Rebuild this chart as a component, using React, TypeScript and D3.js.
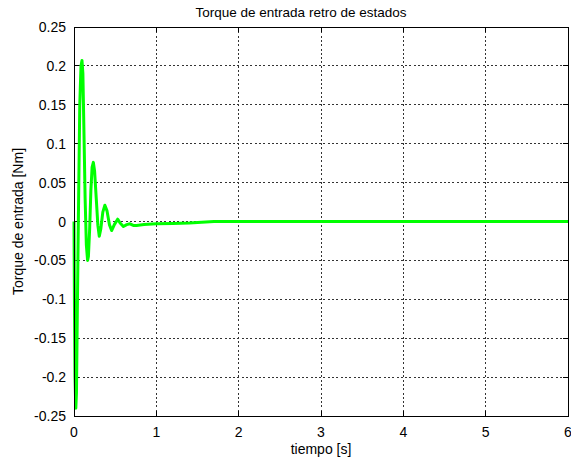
import React from 'react';
import * as d3 from 'd3';

// signal: time [s] and torque [Nm]
const tiempo = [0, 0.005, 0.012, 0.022, 0.03, 0.04, 0.055, 0.07, 0.085, 0.097, 0.108, 0.12, 0.135, 0.15, 0.165, 0.175, 0.19, 0.205, 0.22, 0.235, 0.25, 0.27, 0.29, 0.307, 0.325, 0.35, 0.375, 0.4, 0.43, 0.457, 0.49, 0.53, 0.56, 0.6, 0.64, 0.68, 0.72, 0.76, 0.85, 1.0, 1.2, 1.4, 1.55, 1.7, 6];
const torque = [0, -0.1, -0.2, -0.24, -0.22, -0.12, 0.02, 0.15, 0.2, 0.207, 0.19, 0.12, 0.03, -0.03, -0.05, -0.045, -0.01, 0.04, 0.07, 0.076, 0.065, 0.03, -0.005, -0.019, -0.01, 0.012, 0.021, 0.014, -0.004, -0.0116, -0.004, 0.003, -0.002, -0.0064, -0.004, -0.003, -0.005, -0.005, -0.004, -0.003, -0.0025, -0.002, -0.001, 0, 0];

const xTicks = [0, 1, 2, 3, 4, 5, 6];
const yTicks = [-0.25, -0.2, -0.15, -0.1, -0.05, 0, 0.05, 0.1, 0.15, 0.2, 0.25];
const yTickLabels = ['-0.25', '-0.2', '-0.15', '-0.1', '-0.05', '0', '0.05', '0.1', '0.15', '0.2', '0.25'];

const W = 571;
const H = 460;
const left = 74, right = 568, top = 27, bottom = 416;
const font = 'Liberation Sans, Arial, sans-serif';

export default function App() {
  const x = d3.scaleLinear().domain([0, 6]).range([left, right]);
  const y = d3.scaleLinear().domain([-0.25, 0.25]).range([bottom, top]);

  const pts = tiempo.map((t, i) => [t, torque[i]] as [number, number]);
  const line = d3.line<[number, number]>()
    .x(d => x(d[0]))
    .y(d => y(d[1]));

  return (
    <svg width={W} height={H} style={{ position: 'absolute', left: 0, top: 0, background: '#fff' }}>
      <rect x={0} y={0} width={W} height={H} fill="#fff" />
      <rect x={left} y={top} width={right - left} height={bottom - top} fill="#fff" />

      {/* grid */}
      {xTicks.slice(1, -1).map(t => (
        <line key={'gx' + t} x1={x(t)} x2={x(t)} y1={top} y2={bottom}
          stroke="#333" strokeWidth={1} strokeDasharray="2,2.3" shapeRendering="crispEdges" />
      ))}
      {yTicks.slice(1, -1).map(t => (
        <line key={'gy' + t} x1={left} x2={right} y1={y(t)} y2={y(t)}
          stroke="#333" strokeWidth={1} strokeDasharray="2,2.3" shapeRendering="crispEdges" />
      ))}

      {/* tick marks */}
      {xTicks.map(t => (
        <g key={'tx' + t}>
          <line x1={x(t)} x2={x(t)} y1={bottom} y2={bottom - 5} stroke="#000" shapeRendering="crispEdges" />
          <line x1={x(t)} x2={x(t)} y1={top} y2={top + 5} stroke="#000" shapeRendering="crispEdges" />
        </g>
      ))}
      {yTicks.map(t => (
        <g key={'ty' + t}>
          <line x1={left} x2={left + 5} y1={y(t)} y2={y(t)} stroke="#000" shapeRendering="crispEdges" />
          <line x1={right} x2={right - 5} y1={y(t)} y2={y(t)} stroke="#000" shapeRendering="crispEdges" />
        </g>
      ))}

      {/* data */}
      <path d={line(pts) || ''} fill="none" stroke="#00ff00" strokeWidth={3} strokeLinejoin="round" />

      {/* box */}
      <rect x={left} y={top} width={right - left} height={bottom - top} fill="none" stroke="#000" strokeWidth={1} shapeRendering="crispEdges" />

      {/* tick labels */}
      {xTicks.map(t => (
        <text key={'lx' + t} x={x(t)} y={bottom + 21} textAnchor="middle" fontFamily={font} fontSize={14} fill="#000">{t}</text>
      ))}
      {yTicks.map((t, i) => (
        <text key={'ly' + t} x={left - 8} y={y(t) + 5} textAnchor="end" fontFamily={font} fontSize={14} fill="#000">{yTickLabels[i]}</text>
      ))}

      <text x={(left + right) / 2 - 20} y={17} textAnchor="middle" fontFamily={font} fontSize={13.5} fill="#000">Torque de entrada retro de estados</text>
      <text x={(left + right) / 2} y={454} textAnchor="middle" fontFamily={font} fontSize={14} fill="#000">tiempo [s]</text>
      <text transform={`translate(23,${(top + bottom) / 2}) rotate(-90)`} textAnchor="middle" fontFamily={font} fontSize={14} fill="#000">Torque de entrada [Nm]</text>
    </svg>
  );
}
